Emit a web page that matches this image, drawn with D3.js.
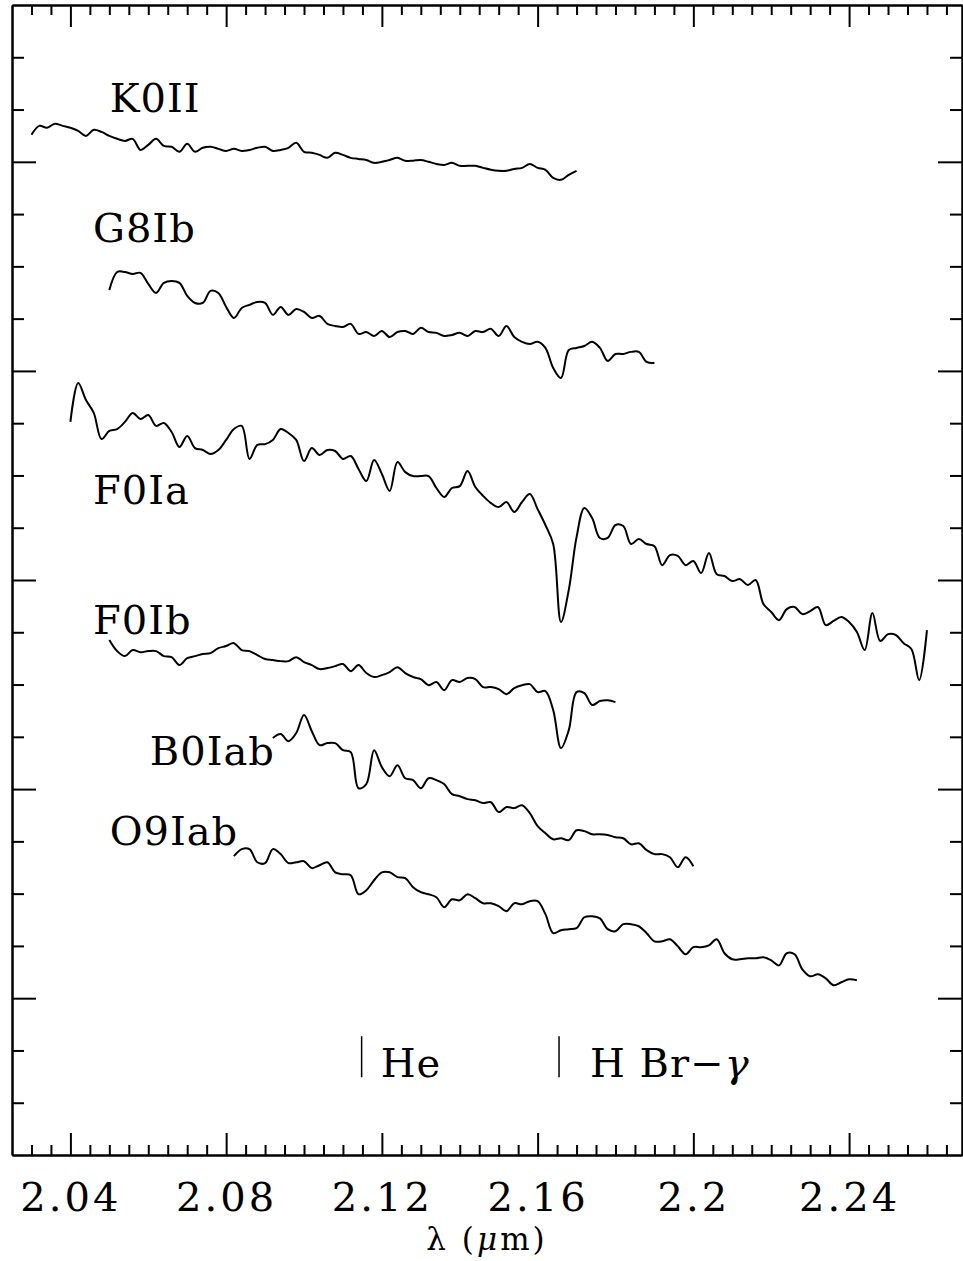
<!DOCTYPE html>
<html>
<head>
<meta charset="utf-8">
<script src="https://cdn.jsdelivr.net/npm/d3@7"></script>
<style>
  body { margin: 0; background: #fff; }
  svg text { font-family: "DejaVu Serif", "Liberation Serif", serif; fill: #000; }
</style>
</head>
<body>
<svg id="chart"></svg>
<script>
// spectra, sampled every 0.002 micron from their start wavelength
let step = 0.002;
let specNames = ["K0II", "G8Ib", "F0Ia", "F0Ib", "B0Iab", "O9Iab"];
let specStart = [2.030, 2.050, 2.040, 2.050, 2.092, 2.082];

let fluxK0II = [5.129,5.172,5.163,5.182,5.172,5.163,5.148,5.124,5.153,5.143,
  5.124,5.110,5.100,5.110,5.057,5.081,5.110,5.076,5.072,5.048,
  5.086,5.048,5.067,5.072,5.062,5.052,5.062,5.052,5.057,5.067,
  5.072,5.052,5.057,5.067,5.091,5.048,5.043,5.033,5.019,5.043,
  5.033,5.019,5.014,5.009,4.995,5.000,5.009,5.019,5.005,5.005,
  5.009,5.000,4.990,4.985,4.995,4.981,4.981,4.981,4.971,4.962,
  4.957,4.957,4.966,4.971,4.990,4.971,4.962,4.923,4.914,4.938,
  4.957];

let fluxG8Ib = [4.387,4.473,4.473,4.464,4.469,4.416,4.373,4.421,4.430,4.421,
  4.359,4.325,4.325,4.383,4.373,4.306,4.253,4.301,4.316,4.330,
  4.325,4.268,4.306,4.268,4.296,4.282,4.253,4.263,4.225,4.215,
  4.210,4.225,4.177,4.186,4.167,4.191,4.162,4.186,4.191,4.177,
  4.206,4.186,4.182,4.167,4.172,4.182,4.167,4.191,4.186,4.201,
  4.167,4.215,4.162,4.139,4.129,4.139,4.110,4.014,3.966,4.100,
  4.110,4.119,4.139,4.110,4.048,4.081,4.081,4.091,4.091,4.043,
  4.038];

let fluxF0Ia = [3.756,3.942,3.861,3.799,3.674,3.713,3.722,3.756,3.799,3.770,
  3.789,3.737,3.751,3.708,3.636,3.689,3.631,3.622,3.603,3.622,
  3.670,3.722,3.737,3.579,3.646,3.650,3.670,3.722,3.703,3.670,
  3.569,3.631,3.598,3.622,3.617,3.579,3.593,3.531,3.473,3.574,
  3.507,3.426,3.564,3.516,3.497,3.497,3.497,3.440,3.397,3.440,
  3.449,3.521,3.445,3.402,3.368,3.349,3.373,3.325,3.373,3.411,
  3.339,3.263,3.172,2.799,2.952,3.205,3.344,3.296,3.201,3.201,
  3.263,3.258,3.172,3.196,3.172,3.162,3.071,3.119,3.115,3.071,
  3.091,3.033,3.129,3.028,3.019,2.995,3.004,2.976,3.000,2.885,
  2.847,2.808,2.861,2.871,2.837,2.851,2.871,2.784,2.804,2.823,
  2.799,2.751,2.665,2.842,2.708,2.741,2.737,2.698,2.670,2.521,
  2.760];

let fluxF0Ib = [2.713,2.660,2.636,2.665,2.655,2.660,2.660,2.636,2.631,2.593,
  2.626,2.636,2.646,2.650,2.674,2.684,2.698,2.665,2.660,2.641,
  2.622,2.617,2.612,2.612,2.631,2.607,2.593,2.574,2.579,2.588,
  2.598,2.564,2.593,2.555,2.536,2.545,2.559,2.583,2.555,2.536,
  2.526,2.497,2.512,2.473,2.521,2.512,2.531,2.526,2.488,2.488,
  2.478,2.454,2.483,2.497,2.502,2.464,2.469,2.378,2.196,2.282,
  2.464,2.459,2.402,2.421,2.425,2.416];

let fluxB0Iab = [2.244,2.263,2.229,2.268,2.354,2.277,2.210,2.220,2.220,2.186,
  2.177,2.004,2.024,2.186,2.105,2.062,2.114,2.052,2.043,2.004,
  2.052,2.043,2.024,1.976,1.966,1.952,1.947,1.933,1.937,1.890,
  1.914,1.909,1.923,1.885,1.823,1.789,1.760,1.765,1.756,1.803,
  1.799,1.784,1.784,1.780,1.770,1.765,1.736,1.741,1.708,1.689,
  1.689,1.674,1.626,1.674,1.631];

let fluxO9Iab = [1.679,1.713,1.713,1.650,1.646,1.713,1.689,1.646,1.650,1.655,
  1.622,1.636,1.650,1.602,1.593,1.588,1.497,1.516,1.564,1.602,
  1.602,1.579,1.574,1.531,1.507,1.497,1.483,1.435,1.473,1.468,
  1.497,1.478,1.454,1.454,1.440,1.416,1.454,1.449,1.464,1.464,
  1.402,1.311,1.325,1.330,1.335,1.387,1.392,1.382,1.330,1.320,
  1.354,1.354,1.344,1.311,1.272,1.272,1.282,1.248,1.210,1.244,
  1.244,1.253,1.282,1.215,1.186,1.186,1.191,1.191,1.196,1.181,
  1.157,1.215,1.210,1.138,1.105,1.114,1.095,1.062,1.076,1.090,
  1.086];

let specFlux = [fluxK0II, fluxG8Ib, fluxF0Ia, fluxF0Ib, fluxB0Iab, fluxO9Iab];

// where each name sits (wavelength, flux of its baseline)
let labelLam = [2.0501, 2.0458, 2.0458, 2.0458, 2.0604, 2.0501];
let labelFlux = [5.239, 4.617, 3.363, 2.741, 2.114, 1.732];

// line identifications
let lineNames = ["He", "H Br\u2212"];
let lineLam = [2.1148, 2.1655];

let xMajor = [2.04, 2.08, 2.12, 2.16, 2.2, 2.24];
let xTickLabels = ["2.04", "2.08", "2.12", "2.16", "2.2", "2.24"];
let yMajor = [1, 2, 3, 4, 5];

// graphics

let width = 963, height = 1261;
let plotL = 12, plotR = 962, plotT = 5, plotB = 1155;

let svg = d3.select("#chart")
  .attr("width", width)
  .attr("height", height)
  ;

let x = d3.scaleLinear().domain([2.025, 2.269]).range([plotL, plotR]);
let y = d3.scaleLinear().domain([0.25, 5.75]).range([plotB, plotT]);

let xMinor = d3.range(2.030, 2.2675, 0.005).map(v => +v.toFixed(3))
  .filter(v => !xMajor.some(m => Math.abs(m - v) < 1e-6));
let yMinor = d3.range(0.5, 5.75, 0.25).filter(v => v % 1 !== 0);

function styleAxis(g) {
  g.selectAll("path, line").attr("stroke", "#000").attr("stroke-width", 2);
  g.attr("font-family", null).attr("font-size", null);
}

// minor ticks
svg.append("g").attr("transform", `translate(0,${plotB})`)
  .call(d3.axisBottom(x).tickValues(xMinor).tickSize(-10).tickSizeOuter(0).tickFormat(""))
  .call(styleAxis);
svg.append("g").attr("transform", `translate(0,${plotT})`)
  .call(d3.axisTop(x).tickValues(xMinor).tickSize(-10).tickSizeOuter(0).tickFormat(""))
  .call(styleAxis);
svg.append("g").attr("transform", `translate(${plotL},0)`)
  .call(d3.axisLeft(y).tickValues(yMinor).tickSize(-12).tickSizeOuter(0).tickFormat(""))
  .call(styleAxis);
svg.append("g").attr("transform", `translate(${plotR},0)`)
  .call(d3.axisRight(y).tickValues(yMinor).tickSize(-12).tickSizeOuter(0).tickFormat(""))
  .call(styleAxis);

// major ticks
let xAxis = svg.append("g").attr("transform", `translate(0,${plotB})`)
  .call(d3.axisBottom(x).tickValues(xMajor).tickSize(-22).tickSizeOuter(0)
    .tickPadding(28).tickFormat((d, i) => xTickLabels[i]))
  .call(styleAxis);
xAxis.selectAll("text")
  .attr("font-size", 40)
  .attr("letter-spacing", 3)
  ;
svg.append("g").attr("transform", `translate(0,${plotT})`)
  .call(d3.axisTop(x).tickValues(xMajor).tickSize(-22).tickSizeOuter(0).tickFormat(""))
  .call(styleAxis);
svg.append("g").attr("transform", `translate(${plotL},0)`)
  .call(d3.axisLeft(y).tickValues(yMajor).tickSize(-24).tickSizeOuter(0).tickFormat(""))
  .call(styleAxis);
svg.append("g").attr("transform", `translate(${plotR},0)`)
  .call(d3.axisRight(y).tickValues(yMajor).tickSize(-24).tickSizeOuter(0).tickFormat(""))
  .call(styleAxis);

// axis title
let xTitle = svg.append("text")
  .attr("x", (plotL + plotR) / 2)
  .attr("y", 1250)
  .attr("text-anchor", "middle")
  .attr("font-size", 31)
  .attr("letter-spacing", 3)
  ;
xTitle.append("tspan").text("\u03bb (");
xTitle.append("tspan").attr("font-style", "italic").text("\u03bc");
xTitle.append("tspan").text("m)");

// spectra
let line = d3.line()
  .x(d => x(d.lam))
  .y(d => y(d.flux))
  .curve(d3.curveCatmullRom.alpha(0.5))
  ;

let spectra = specNames.map((name, k) => {
  return specFlux[k].map((f, i) => ({ lam: specStart[k] + i * step, flux: f }));
});

svg.append("g")
  .selectAll("path")
  .data(spectra)
  .enter()
  .append("path")
  .attr("d", line)
  .attr("fill", "none")
  .attr("stroke", "#000")
  .attr("stroke-width", 2)
  .attr("stroke-linejoin", "round")
  ;

svg.append("g")
  .selectAll("text")
  .data(specNames)
  .enter()
  .append("text")
  .attr("x", (d, i) => x(labelLam[i]))
  .attr("y", (d, i) => y(labelFlux[i]))
  .attr("font-size", 40)
  .attr("letter-spacing", 1)
  .text(d => d)
  ;

// line markers
let markTop = 0.818, markBottom = 0.622;
let marks = svg.append("g")
  .selectAll("g")
  .data(lineNames)
  .enter()
  .append("g")
  ;
marks.append("line")
  .attr("x1", (d, i) => x(lineLam[i]))
  .attr("x2", (d, i) => x(lineLam[i]))
  .attr("y1", y(markTop))
  .attr("y2", y(markBottom))
  .attr("stroke", "#000")
  .attr("stroke-width", 1.5)
  ;
let markText = marks.append("text")
  .attr("x", (d, i) => x(lineLam[i]) + (i === 0 ? 19 : 31))
  .attr("y", y(markBottom))
  .attr("font-size", 40)
  .attr("letter-spacing", 1)
  ;
markText.each(function(d, i) {
  let t = d3.select(this);
  if (i === 0) {
    t.text(d);
  } else {
    t.append("tspan").text("H Br\u2212");
    t.append("tspan").attr("font-style", "italic").text("\u03b3");
  }
});
</script>
</body>
</html>
